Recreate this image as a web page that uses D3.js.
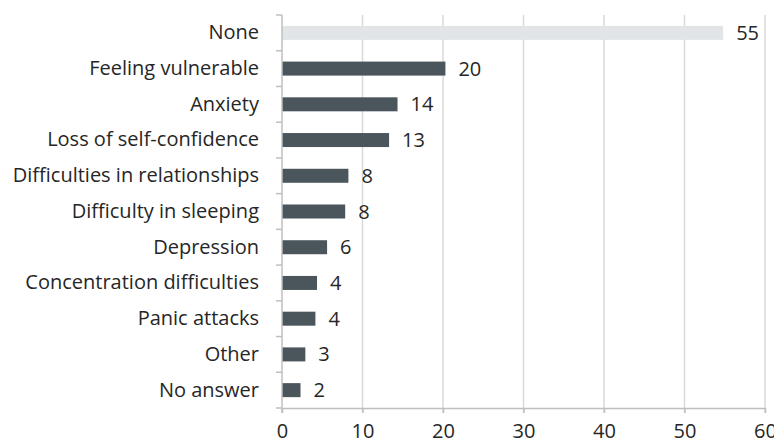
<!DOCTYPE html>
<html>
<head>
<meta charset="utf-8">
<script src="https://cdn.jsdelivr.net/npm/d3@7"></script>
<style>
  html, body { margin: 0; padding: 0; background: #fff; }
  svg text { font-family: "Open Sans", "Noto Sans", sans-serif; fill: #262626; }
</style>
</head>
<body>
<svg id="chart" width="774" height="445"></svg>
<script>
const categories = ["None", "Feeling vulnerable", "Anxiety", "Loss of self-confidence",
  "Difficulties in relationships", "Difficulty in sleeping", "Depression",
  "Concentration difficulties", "Panic attacks", "Other", "No answer"];
const values = [54.8, 20.3, 14.35, 13.3, 8.25, 7.85, 5.6, 4.35, 4.15, 2.9, 2.3];
const valueLabels = ["55", "20", "14", "13", "8", "8", "6", "4", "4", "3", "2"];
const xTicks = [0, 10, 20, 30, 40, 50, 60];

const svg = d3.select("#chart");
const margin = { left: 282, right: 9, top: 15, bottom: 37 };
const W = 774, H = 445;

const x = d3.scaleLinear().domain([0, 60]).range([margin.left, W - margin.right]);
const yb = d3.scaleBand().domain(categories).range([margin.top, H - margin.bottom]);

// gridlines
svg.append("g").selectAll("line").data(xTicks.filter(d => d > 0)).join("line")
  .attr("x1", d => x(d)).attr("x2", d => x(d))
  .attr("y1", margin.top).attr("y2", H - margin.bottom + 5)
  .attr("stroke", "#d9d9d9").attr("stroke-width", 1.5);

// bars
svg.append("g").selectAll("rect").data(categories).join("rect")
  .attr("x", x(0))
  .attr("y", d => yb(d) + yb.bandwidth() / 2 - 7)
  .attr("height", 14)
  .attr("width", (d, i) => x(values[i]) - x(0))
  .attr("fill", (d, i) => i === 0 ? "#e1e5e8" : "#4a555c");

// value labels
svg.append("g").selectAll("text").data(categories).join("text")
  .attr("x", (d, i) => x(values[i]) + 13)
  .attr("y", d => yb(d) + yb.bandwidth() / 2)
  .attr("dy", "0.35em")
  .attr("font-size", 20)
  .text((d, i) => valueLabels[i]);

// y axis
const yAxis = d3.axisLeft(yb).tickSize(6).tickPadding(17).tickFormat(d => d);
const gy = svg.append("g").attr("transform", `translate(${x(0)},0)`).call(yAxis);
gy.selectAll(".tick line").remove();
gy.select(".domain").remove();
gy.attr("font-family", null);
gy.selectAll("text").attr("font-size", 20).attr("fill", "#262626");

// y axis line & ticks at band boundaries
const bounds = categories.map(c => yb(c)).concat([H - margin.bottom]);
svg.append("g").selectAll("line").data(bounds).join("line")
  .attr("x1", x(0) - 6).attr("x2", x(0))
  .attr("y1", d => d).attr("y2", d => d)
  .attr("stroke", "#bfbfbf").attr("stroke-width", 1.5);
svg.append("line")
  .attr("x1", x(0)).attr("x2", x(0))
  .attr("y1", margin.top).attr("y2", H - margin.bottom + 5)
  .attr("stroke", "#bfbfbf").attr("stroke-width", 1.5);

// x axis
const xAxis = d3.axisBottom(x).tickValues(xTicks).tickSize(5).tickPadding(11).tickSizeOuter(0);
const gx = svg.append("g").attr("transform", `translate(0,${H - margin.bottom})`).call(xAxis);
gx.attr("font-family", null);
gx.select(".domain").attr("stroke", "#bfbfbf").attr("stroke-width", 1.5);
gx.selectAll(".tick line").attr("stroke", "#bfbfbf").attr("stroke-width", 1.5);
gx.selectAll("text").attr("font-size", 20).attr("fill", "#262626");
</script>
</body>
</html>
